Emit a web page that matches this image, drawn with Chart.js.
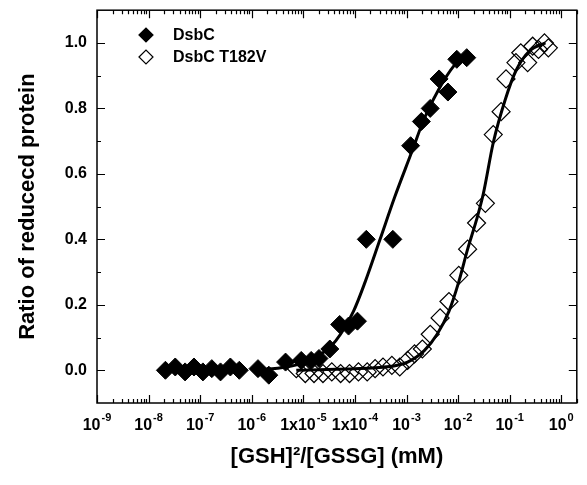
<!DOCTYPE html>
<html lang="en">
<head>
<meta charset="utf-8">
<title>DsbC redox equilibrium</title>
<script src="https://cdn.jsdelivr.net/npm/chart.js@4"></script>
<style>
  html, body { margin: 0; padding: 0; background: #fff; }
</style>
</head>
<body>
<canvas id="myChart" width="587" height="485"></canvas>
<script>
// [GSH]^2/[GSSG] (mM) vs ratio of reduced protein
const dsbcX = [2.12e-8, 3.29e-8, 5.1e-8, 7.58e-8, 1.13e-7, 1.68e-7, 2.48e-7, 3.85e-7, 5.73e-7,
  1.32e-6, 2.14e-6, 4.52e-6, 9.1e-6, 1.42e-5, 2.01e-5, 3.26e-5, 5.06e-5, 7.52e-5, 1.12e-4,
  1.66e-4, 5.43e-4, 1.2e-3, 1.94e-3, 2.88e-3, 4.28e-3, 6.35e-3, 9.44e-3, 1.47e-2];
const dsbcY = [0.0, 0.01, -0.005, 0.01, -0.005, 0.005, -0.005, 0.01, 0.0,
  0.005, -0.015, 0.025, 0.03, 0.03, 0.036, 0.065, 0.14, 0.135, 0.15,
  0.40, 0.40, 0.686, 0.76, 0.80, 0.89, 0.85, 0.95, 0.955];

const t182vX = [7.3e-6, 1.09e-5, 1.61e-5, 2.4e-5, 3.56e-5, 5.28e-5, 7.85e-5, 1.17e-4, 1.73e-4,
  2.46e-4, 3.5e-4, 5.2e-4, 7.4e-4, 1.05e-3, 1.43e-3, 2.03e-3, 2.88e-3, 4.48e-3, 6.65e-3,
  0.0103, 0.0153, 0.0228, 0.0338, 0.048, 0.0682, 0.0849, 0.132, 0.164, 0.223, 0.279, 0.362, 0.472, 0.562];
const t182vY = [0.005, -0.01, -0.01, -0.01, -0.005, -0.01, -0.01, -0.005, -0.005,
  0.005, 0.01, 0.015, 0.01, 0.03, 0.05, 0.065, 0.11, 0.16, 0.21,
  0.29, 0.37, 0.45, 0.51, 0.72, 0.79, 0.89, 0.94, 0.97, 0.94, 0.99, 0.98, 1.0, 0.985];

// fitted curves
const dsbcFitX = [1.16e-6, 4.72e-6, 1.13e-5, 2.01e-5, 4.24e-5, 9.36e-5, 1.58e-4, 3.07e-4,
  5.93e-4, 1.25e-3, 2.22e-3, 4.28e-3, 8.28e-3, 1.47e-2];
const dsbcFitY = [0.0, 0.01, 0.025, 0.045, 0.09, 0.18, 0.27, 0.40, 0.53, 0.665, 0.77, 0.86, 0.93, 0.965];
const t182vFitX = [7.3e-6, 4.24e-5, 2.46e-4, 5.2e-4, 1.05e-3, 2.21e-3, 3.92e-3, 6.64e-3, 0.0103,
  0.0153, 0.0228, 0.0309, 0.048, 0.0813, 0.132, 0.244, 0.492];
const t182vFitY = [0.0, 0.003, 0.008, 0.012, 0.025, 0.06, 0.11, 0.18, 0.27, 0.37, 0.46, 0.54,
  0.695, 0.825, 0.915, 0.976, 1.0];

// tick labels
const xDecades = [-9, -8, -7, -6, -5, -4, -3, -2, -1, 0];
const xTickBase = ['10', '10', '10', '10', '1x10', '1x10', '10', '10', '10', '10'];
const xTickSup = ['-9', '-8', '-7', '-6', '-5', '-4', '-3', '-2', '-1', '0'];
const yTicks = [0, 0.2, 0.4, 0.6, 0.8, 1.0];
const yTickLabels = ['0.0', '0.2', '0.4', '0.6', '0.8', '1.0'];
const yMinorTicks = [0.1, 0.3, 0.5, 0.7, 0.9];

const seriesNames = ['DsbC', 'DsbC T182V'];

const FONT = '"Liberation Sans", Arial, sans-serif';

function pts(xs, ys) {
  return xs.map((x, i) => ({ x: x, y: ys[i] }));
}

const axesPlugin = {
  id: 'axesPlugin',
  afterDraw(chart) {
    const ctx = chart.ctx;
    const a = chart.chartArea;
    const xs = chart.scales.x;
    const ys = chart.scales.y;
    ctx.save();
    ctx.strokeStyle = '#000';
    ctx.fillStyle = '#000';
    ctx.lineWidth = 1.5;
    ctx.strokeRect(a.left, a.top, a.right - a.left, a.bottom - a.top);

    // x ticks, pointing inward on bottom and top
    ctx.lineWidth = 1.2;
    ctx.beginPath();
    xDecades.forEach(d => {
      for (let m = 1; m <= 9; m++) {
        const v = m * Math.pow(10, d);
        if (v > xs.max * 1.0001) break;
        const px = Math.round(xs.getPixelForValue(v)) + 0.5;
        const len = m === 1 ? 8 : 4;
        ctx.moveTo(px, a.bottom); ctx.lineTo(px, a.bottom - len);
        ctx.moveTo(px, a.top); ctx.lineTo(px, a.top + len);
      }
    });
    // y ticks
    yTicks.forEach(v => {
      const py = Math.round(ys.getPixelForValue(v)) + 0.5;
      ctx.moveTo(a.left, py); ctx.lineTo(a.left + 8, py);
      ctx.moveTo(a.right, py); ctx.lineTo(a.right - 8, py);
    });
    yMinorTicks.forEach(v => {
      const py = Math.round(ys.getPixelForValue(v)) + 0.5;
      ctx.moveTo(a.left, py); ctx.lineTo(a.left + 4, py);
      ctx.moveTo(a.right, py); ctx.lineTo(a.right - 4, py);
    });
    ctx.stroke();

    // x tick labels with superscripts
    const baseFont = 'bold 16px ' + FONT;
    const supFont = 'bold 11px ' + FONT;
    ctx.textAlign = 'left';
    ctx.textBaseline = 'alphabetic';
    xDecades.forEach((d, i) => {
      const cx = xs.getPixelForValue(Math.pow(10, d));
      ctx.font = baseFont;
      const wb = ctx.measureText(xTickBase[i]).width;
      ctx.font = supFont;
      const wsup = ctx.measureText(xTickSup[i]).width;
      const x0 = cx - (wb + wsup + 1) / 2;
      ctx.font = baseFont;
      ctx.fillText(xTickBase[i], x0, 430);
      ctx.font = supFont;
      ctx.fillText(xTickSup[i], x0 + wb + 1, 421);
    });

    // y tick labels
    ctx.font = baseFont;
    ctx.textAlign = 'right';
    ctx.textBaseline = 'middle';
    yTicks.forEach((v, i) => {
      ctx.fillText(yTickLabels[i], 87, ys.getPixelForValue(v));
    });

    // legend inside the plot
    const lx = 146, ly = [35, 57];
    ctx.font = 'bold 16px ' + FONT;
    ctx.textAlign = 'left';
    ctx.textBaseline = 'middle';
    ly.forEach((yy, i) => {
      ctx.beginPath();
      ctx.moveTo(lx - 7, yy); ctx.lineTo(lx, yy - 7); ctx.lineTo(lx + 7, yy); ctx.lineTo(lx, yy + 7);
      ctx.closePath();
      ctx.lineWidth = 1.2;
      if (i === 0) { ctx.fill(); } else { ctx.fillStyle = '#fff'; ctx.fill(); ctx.fillStyle = '#000'; }
      ctx.stroke();
      ctx.fillText(seriesNames[i], 173, yy + 1);
    });
    ctx.restore();
  }
};

const config = {
  type: 'scatter',
  data: {
    datasets: [{
      label: seriesNames[0] + ' fit',
      type: 'line',
      data: pts(dsbcFitX, dsbcFitY),
      borderColor: '#000',
      borderWidth: 3,
      pointRadius: 0,
      cubicInterpolationMode: 'monotone',
      fill: false
    }, {
      label: seriesNames[1] + ' fit',
      type: 'line',
      data: pts(t182vFitX, t182vFitY),
      borderColor: '#000',
      borderWidth: 3,
      pointRadius: 0,
      cubicInterpolationMode: 'monotone',
      fill: false
    }, {
      label: seriesNames[0],
      data: pts(dsbcX, dsbcY),
      pointStyle: 'rectRot',
      pointRadius: 9,
      backgroundColor: '#000',
      borderColor: '#000',
      borderWidth: 1
    }, {
      label: seriesNames[1],
      data: pts(t182vX, t182vY),
      pointStyle: 'rectRot',
      pointRadius: 9,
      backgroundColor: 'rgba(255,255,255,0)',
      borderColor: '#000',
      borderWidth: 1.2
    }]
  },
  options: {
    responsive: false,
    devicePixelRatio: 1,
    animation: false,
    layout: { padding: { top: 6, right: 2, left: 0, bottom: 0 } },
    plugins: {
      legend: { display: false },
      tooltip: { enabled: false }
    },
    scales: {
      x: {
        type: 'logarithmic',
        min: 1e-9,
        max: 2,
        ticks: { display: false },
        grid: { display: false },
        border: { display: false },
        title: {
          display: true,
          text: '[GSH]²/[GSSG] (mM)',
          color: '#000',
          font: { family: FONT, weight: 'bold', size: 22 },
          padding: { top: 0, bottom: 15 }
        },
        afterFit: s => { s.height = 82; }
      },
      y: {
        min: -0.1,
        max: 1.1,
        ticks: { display: false },
        grid: { display: false },
        border: { display: false },
        title: {
          display: true,
          text: 'Ratio of reducecd protein',
          color: '#000',
          font: { family: FONT, weight: 'bold', size: 22 },
          padding: { top: 15, bottom: 0 }
        },
        afterFit: s => { s.width = 97; }
      }
    }
  },
  plugins: [axesPlugin]
};

const myChart = new Chart(document.getElementById('myChart'), config);
</script>
</body>
</html>
